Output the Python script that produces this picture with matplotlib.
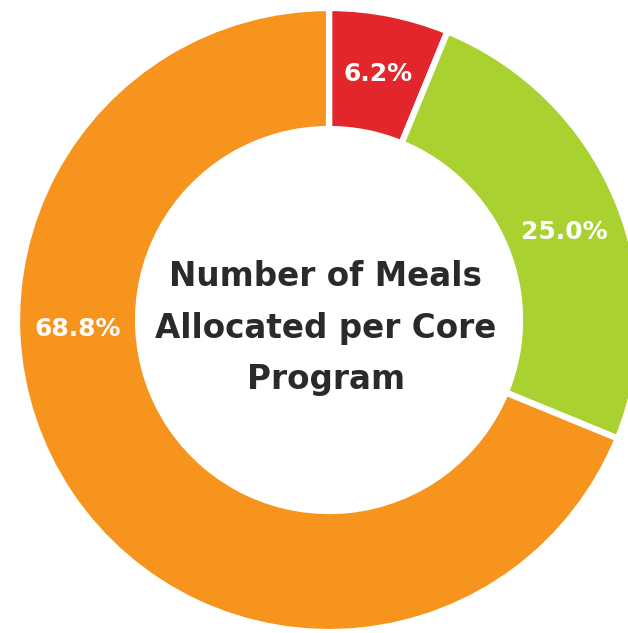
import numpy as np
import matplotlib.pyplot as plt

# Share of meals per core program (clockwise from top)
programs = ['Program A', 'Program B', 'Program C']
shares = [6.2, 25.0, 68.8]
labels = ['6.2%', '25.0%', '68.8%']
colors = ['#E2262B', '#A9D12F', '#F7941E']
center_title = 'Number of Meals\nAllocated per Core\nProgram'

# where each percentage label sits on the ring (degrees), None = mid slice
label_angles = [None, 20.5, 182.0]

plt.rcParams['font.family'] = ['DejaVu Sans']

fig = plt.figure(figsize=(6.28, 6.33), dpi=100)
ax = fig.add_axes([0, 0, 1, 1])

wedges, _ = ax.pie(shares, colors=colors, startangle=90, counterclock=False,
                   radius=1.0,
                   wedgeprops=dict(width=0.388, edgecolor='white', linewidth=4.5))

# percentage labels in the middle of the ring
ring_mid = 0.805
for w, lab, ang in zip(wedges, labels, label_angles):
    if ang is None:
        ang = (w.theta1 + w.theta2) / 2
    x = ring_mid * np.cos(np.radians(ang))
    y = ring_mid * np.sin(np.radians(ang))
    ax.text(x, y, lab, ha='center', va='center', color='white',
            fontsize=18, fontweight='bold')

ax.text(-0.01, -0.026, center_title, ha='center', va='center',
        color='#2A2A2A', fontsize=23.5, fontweight='bold', linespacing=1.7)

ax.set_aspect('auto')
ax.set_xlim(-1.0545, 0.958)
ax.set_ylim(-1.003, 1.0256)
ax.axis('off')

fig.savefig('out.png', dpi=100, facecolor='white')
